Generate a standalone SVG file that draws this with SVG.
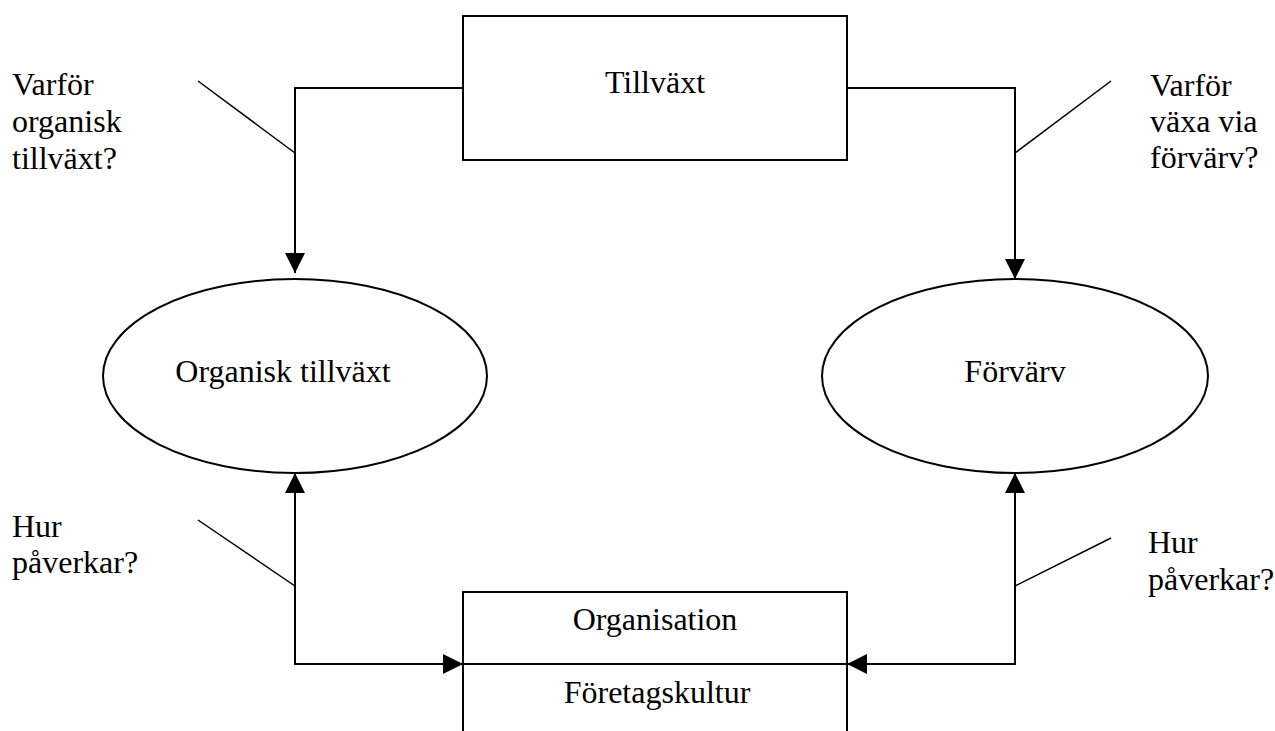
<svg xmlns="http://www.w3.org/2000/svg" width="1275" height="731" viewBox="0 0 1275 731">
<defs>
<style>
.t{font-family:"Liberation Serif","Times New Roman",serif;font-size:32px;fill:#000}
.c{text-anchor:middle}
.s{fill:#fff;stroke:#000;stroke-width:2}
.l{fill:none;stroke:#000;stroke-width:2}
.d{fill:none;stroke:#000;stroke-width:1.5}
</style>
<marker id="ah" viewBox="0 0 20 20" refX="20" refY="10" markerWidth="20" markerHeight="20" markerUnits="userSpaceOnUse" orient="auto">
<path d="M0,0 L20,10 L0,20 Z" fill="#000"/>
</marker>
</defs>
<rect width="1275" height="731" fill="#fff"/>
<g id="connectors">
<path class="l" d="M463,88 H295 V273" marker-end="url(#ah)"/>
<path class="l" d="M847,88 H1015 V279" marker-end="url(#ah)"/>
<path class="l" d="M463,664 H295 V473" marker-end="url(#ah)"/>
<path class="l" d="M295,664 H463" marker-end="url(#ah)"/>
<path class="l" d="M847,664 H1015 V473" marker-end="url(#ah)"/>
<path class="l" d="M1015,664 H847" marker-end="url(#ah)"/>
<line class="d" x1="198" y1="81" x2="295" y2="153"/>
<line class="d" x1="1111" y1="81" x2="1015" y2="153"/>
<line class="d" x1="198" y1="520" x2="295" y2="586"/>
<line class="d" x1="1111" y1="538" x2="1015" y2="586"/>
</g>
<g id="tillvaxt">
<rect class="s" x="463" y="16" width="384" height="144"/>
<text class="t c" x="655" y="93">Tillväxt</text>
</g>
<g id="organisk">
<ellipse class="s" cx="295" cy="376" rx="192" ry="97"/>
<text class="t c" x="283" y="382">Organisk tillväxt</text>
</g>
<g id="forvarv">
<ellipse class="s" cx="1015" cy="376" rx="193" ry="97"/>
<text class="t c" x="1015" y="382">Förvärv</text>
</g>
<g id="organisation">
<path class="l" d="M463,735 V592 H847 V735"/>
<line class="l" x1="463" y1="664" x2="847" y2="664"/>
<text class="t c" x="655" y="630">Organisation</text>
<text class="t c" x="657" y="703">Företagskultur</text>
</g>
<g id="q1">
<text class="t" x="12" y="95">Varför</text>
<text class="t" x="12" y="132">organisk</text>
<text class="t" x="12" y="169">tillväxt?</text>
</g>
<g id="q2">
<text class="t" x="1150" y="96">Varför</text>
<text class="t" x="1150" y="132">växa via</text>
<text class="t" x="1150" y="168">förvärv?</text>
</g>
<g id="q3">
<text class="t" x="12" y="537">Hur</text>
<text class="t" x="12" y="573">påverkar?</text>
</g>
<g id="q4">
<text class="t" x="1148" y="553">Hur</text>
<text class="t" x="1148" y="590">påverkar?</text>
</g>
</svg>
